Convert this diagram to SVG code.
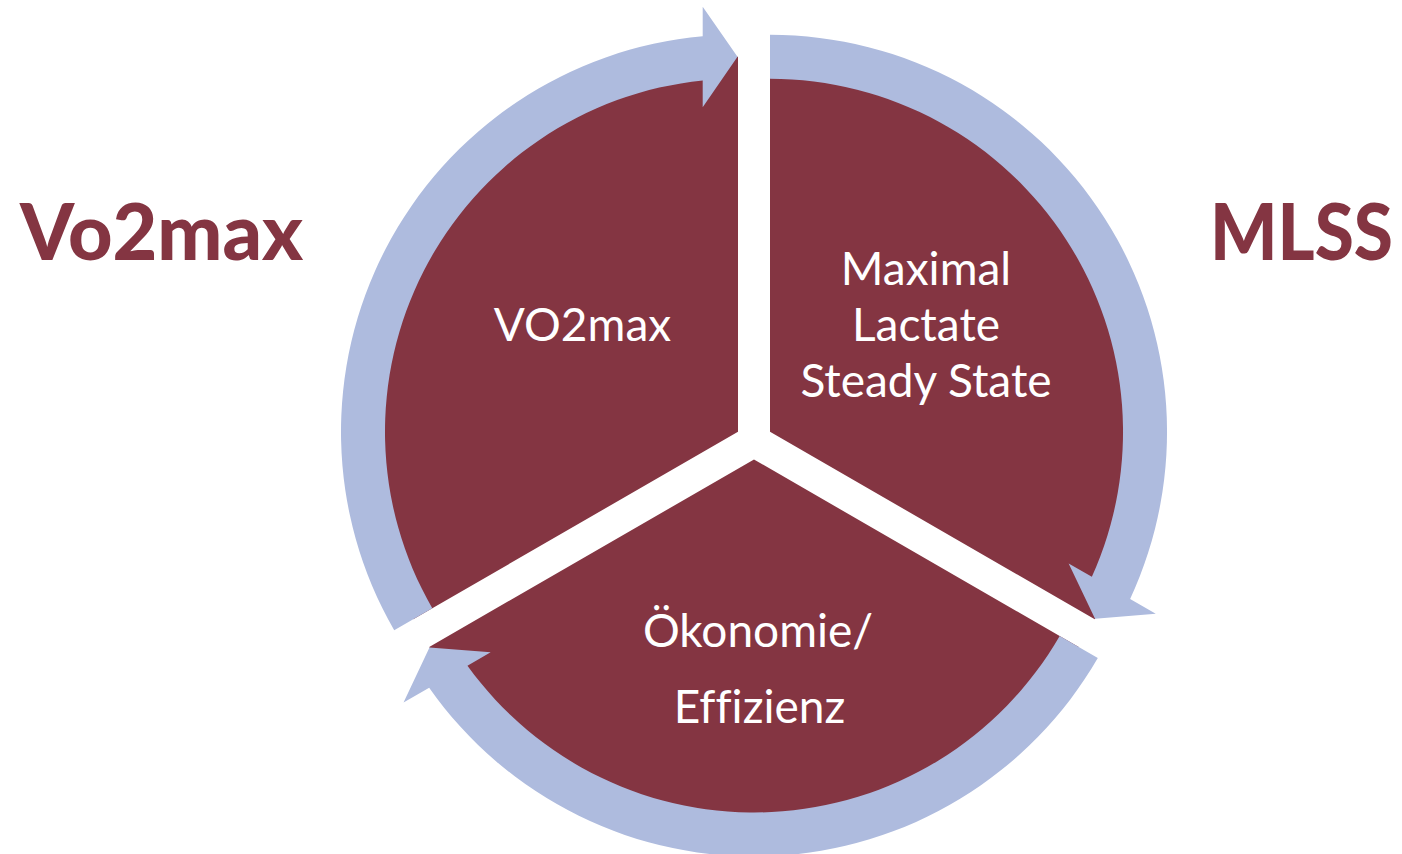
<svg xmlns="http://www.w3.org/2000/svg" xmlns:xlink="http://www.w3.org/1999/xlink" width="1402" height="854" viewBox="0 0 1402 854">
  <style>
    .seg { fill: #843542; }
    .arrow { fill: #AEBBDE; }
    .inner { font-family: Lato, "Liberation Sans", sans-serif; font-size: 46px; fill: #FFFFFF; text-anchor: middle; font-variant-ligatures: none; }
    .outer { font-family: Lato, "Liberation Sans", sans-serif; font-weight: 900; font-size: 78px; fill: #843542; }
  </style>
  <defs>
    <path id="segShape" d="M 738 431.75 L 413.24 619.25 A 375 375 0 0 1 738 56.75 Z"/>
    <path id="arrowShape" d="M 394.2 630.25 A 397 397 0 0 1 702.7 36.3 L 702.7 6.7 L 737.5 56.75 L 702.7 107.3 L 702.7 80.5 A 353 353 0 0 0 432.3 608.25 Z"/>
  </defs>
  <rect width="1402" height="854" fill="#FFFFFF"/>
  <g id="node-vo2max">
    <use xlink:href="#segShape" href="#segShape" class="seg"/>
    <text class="inner" x="582.5" y="341">VO2max</text>
  </g>
  <g id="node-mlss">
    <use xlink:href="#segShape" href="#segShape" class="seg" transform="rotate(120 754 441)"/>
    <text class="inner" x="926" y="285">Maximal</text>
    <text class="inner" x="926" y="341">Lactate</text>
    <text class="inner" x="926" y="397">Steady State</text>
  </g>
  <g id="node-oekonomie">
    <use xlink:href="#segShape" href="#segShape" class="seg" transform="rotate(240 754 441)"/>
    <text class="inner" x="758" y="647">Ökonomie/</text>
    <text class="inner" x="759.5" y="723">Effizienz</text>
  </g>
  <g id="connectors">
    <use xlink:href="#arrowShape" href="#arrowShape" class="arrow"/>
    <use xlink:href="#arrowShape" href="#arrowShape" class="arrow" transform="rotate(120 754 441)"/>
    <use xlink:href="#arrowShape" href="#arrowShape" class="arrow" transform="rotate(240 754 441)"/>
  </g>
  <g id="label-vo2max">
    <text class="outer" x="20" y="260" textLength="283" lengthAdjust="spacingAndGlyphs">Vo2max</text>
  </g>
  <g id="label-mlss" transform="translate(1210 260) scale(0.8927 1)">
    <text class="outer" x="0" y="0" textLength="205" lengthAdjust="spacingAndGlyphs">MLSS</text>
  </g>
</svg>
